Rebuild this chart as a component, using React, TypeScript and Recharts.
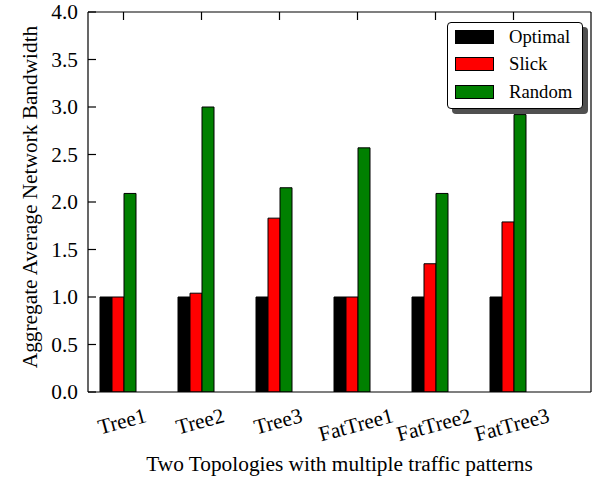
import React from 'react';
import { BarChart, Bar, XAxis, YAxis, Legend, Label } from 'recharts';

const categories = ['Tree1', 'Tree2', 'Tree3', 'FatTree1', 'FatTree2', 'FatTree3'];
const optimal = [1.0, 1.0, 1.0, 1.0, 1.0, 1.0];
const slick = [1.0, 1.04, 1.83, 1.0, 1.35, 1.79];
const random = [2.09, 3.0, 2.15, 2.57, 2.09, 2.92];
const yTicks = [0, 0.5, 1.0, 1.5, 2.0, 2.5, 3.0, 3.5, 4.0];

const seriesNames = ['Optimal', 'Slick', 'Random'];
const seriesColors = ['#000000', '#ff0000', '#008000'];

const data = categories.map((c, i) => ({
  name: c,
  Optimal: optimal[i],
  Slick: slick[i],
  Random: random[i],
}));

const FONT = '"Liberation Serif", "Times New Roman", serif';
const FS = 21.33;
const LEGEND_FS = 18.67;

let ctx: CanvasRenderingContext2D | null = null;
function textWidth(s: string, font: string): number {
  if (!ctx) ctx = document.createElement('canvas').getContext('2d');
  if (!ctx) return s.length * 10;
  ctx.font = font;
  return ctx.measureText(s).width;
}

const ANGLE = 15;

const XTick = (props: any) => {
  const { x, y, payload } = props;
  const w = textWidth(String(payload.value), `${FS}px "Liberation Serif"`);
  const cx = x + 4;
  const cy = y + 23 + (w * Math.sin((ANGLE * Math.PI) / 180)) / 2;
  return (
    <text
      x={cx}
      y={cy}
      textAnchor="middle"
      dominantBaseline="central"
      transform={`rotate(-${ANGLE} ${cx} ${cy})`}
      style={{ fontFamily: FONT, fontSize: FS }}
      fill="#000"
    >
      {payload.value}
    </text>
  );
};

const YTick = (props: any) => {
  const { x, y, payload } = props;
  return (
    <text
      x={x}
      y={y}
      textAnchor="end"
      dominantBaseline="central"
      style={{ fontFamily: FONT, fontSize: FS }}
      fill="#000"
    >
      {Number(payload.value).toFixed(1)}
    </text>
  );
};

const TopTick = (props: any) => {
  const { x, y } = props;
  const tx = x + 5.5;
  return <line x1={tx} x2={tx} y1={y} y2={y + 8} stroke="#000" strokeWidth={1.2} />;
};

const YTitle = (props: any) => {
  const { viewBox } = props;
  const cx = viewBox.x + 30;
  const cy = viewBox.y + viewBox.height / 2 - 5;
  return (
    <text
      x={cx}
      y={cy}
      textAnchor="middle"
      dominantBaseline="central"
      transform={`rotate(-90 ${cx} ${cy})`}
      style={{ fontFamily: FONT, fontSize: FS }}
      fill="#000"
    >
      Aggregate Average Network Bandwidth
    </text>
  );
};

const XTitle = (props: any) => {
  const { viewBox } = props;
  const cx = viewBox.x + viewBox.width / 2;
  const cy = viewBox.y + 79;
  return (
    <text x={cx} y={cy} textAnchor="middle" style={{ fontFamily: FONT, fontSize: FS }} fill="#000">
      Two Topologies with multiple traffic patterns
    </text>
  );
};

const LegendBox = (props: any) => {
  const payload = [...(props.payload || [])].sort(
    (a: any, b: any) => seriesNames.indexOf(a.value) - seriesNames.indexOf(b.value)
  );
  return (
    <div
      style={{
        width: 136,
        height: 87,
        border: '1px solid #000',
        borderRadius: 4,
        background: '#fff',
        boxShadow: '5px 5px 0 #505050',
        boxSizing: 'border-box',
        fontFamily: FONT,
        fontSize: LEGEND_FS,
        color: '#000',
      }}
    >
      {payload.map((p: any) => (
        <div key={p.value} style={{ height: 27.5, display: 'flex', alignItems: 'center' }}>
          <div
            style={{
              marginLeft: 7,
              width: 39,
              height: 14,
              background: p.color,
              border: '1px solid #000',
              boxSizing: 'border-box',
            }}
          />
          <span style={{ marginLeft: 15, lineHeight: '20px' }}>{p.value}</span>
        </div>
      ))}
    </div>
  );
};

export default function App() {
  return (
    <div style={{ position: 'absolute', left: 0, top: 0, background: '#fff' }}>
      <BarChart
        width={595}
        height={481}
        data={data}
        margin={{ top: 0, right: 0, bottom: 0, left: 0 }}
        barGap={0}
        barSize={12}
      >
        <XAxis
          dataKey="name"
          height={89}
          padding={{ left: -9, right: 44 }}
          interval={0}
          tickLine={false}
          tickSize={0}
          tickMargin={0}
          axisLine={{ stroke: '#000', strokeWidth: 1.2 }}
          tick={<XTick />}
        >
          <Label content={<XTitle />} />
        </XAxis>
        <XAxis
          xAxisId="top"
          orientation="top"
          dataKey="name"
          height={12}
          padding={{ left: -9, right: 44 }}
          interval={0}
          tickLine={false}
          tickSize={0}
          tickMargin={0}
          axisLine={{ stroke: '#000', strokeWidth: 1.2 }}
          tick={<TopTick />}
        />
        <YAxis
          width={88}
          domain={[0, 4]}
          ticks={yTicks}
          type="number"
          allowDataOverflow
          tickSize={-8}
          tickMargin={18}
          interval={0}
          axisLine={{ stroke: '#000', strokeWidth: 1.2 }}
          tickLine={{ stroke: '#000', strokeWidth: 1.2 }}
          tick={<YTick />}
        >
          <Label content={<YTitle />} />
        </YAxis>
        <YAxis
          yAxisId="right"
          orientation="right"
          width={4}
          domain={[0, 4]}
          ticks={yTicks}
          type="number"
          allowDataOverflow
          tickSize={-8}
          interval={0}
          tick={false}
          axisLine={{ stroke: '#000', strokeWidth: 1.2 }}
          tickLine={{ stroke: '#000', strokeWidth: 1.2 }}
        />
        {seriesNames.map((s, i) => (
          <Bar
            key={s}
            dataKey={s}
            name={s}
            fill={seriesColors[i]}
            stroke="#000"
            strokeWidth={1}
            isAnimationActive={false}
          />
        ))}
        <Legend
          layout="vertical"
          align="center"
          verticalAlign="middle"
          wrapperStyle={{ left: 447, top: 22, width: 136, height: 87 }}
          content={<LegendBox />}
        />
      </BarChart>
    </div>
  );
}
